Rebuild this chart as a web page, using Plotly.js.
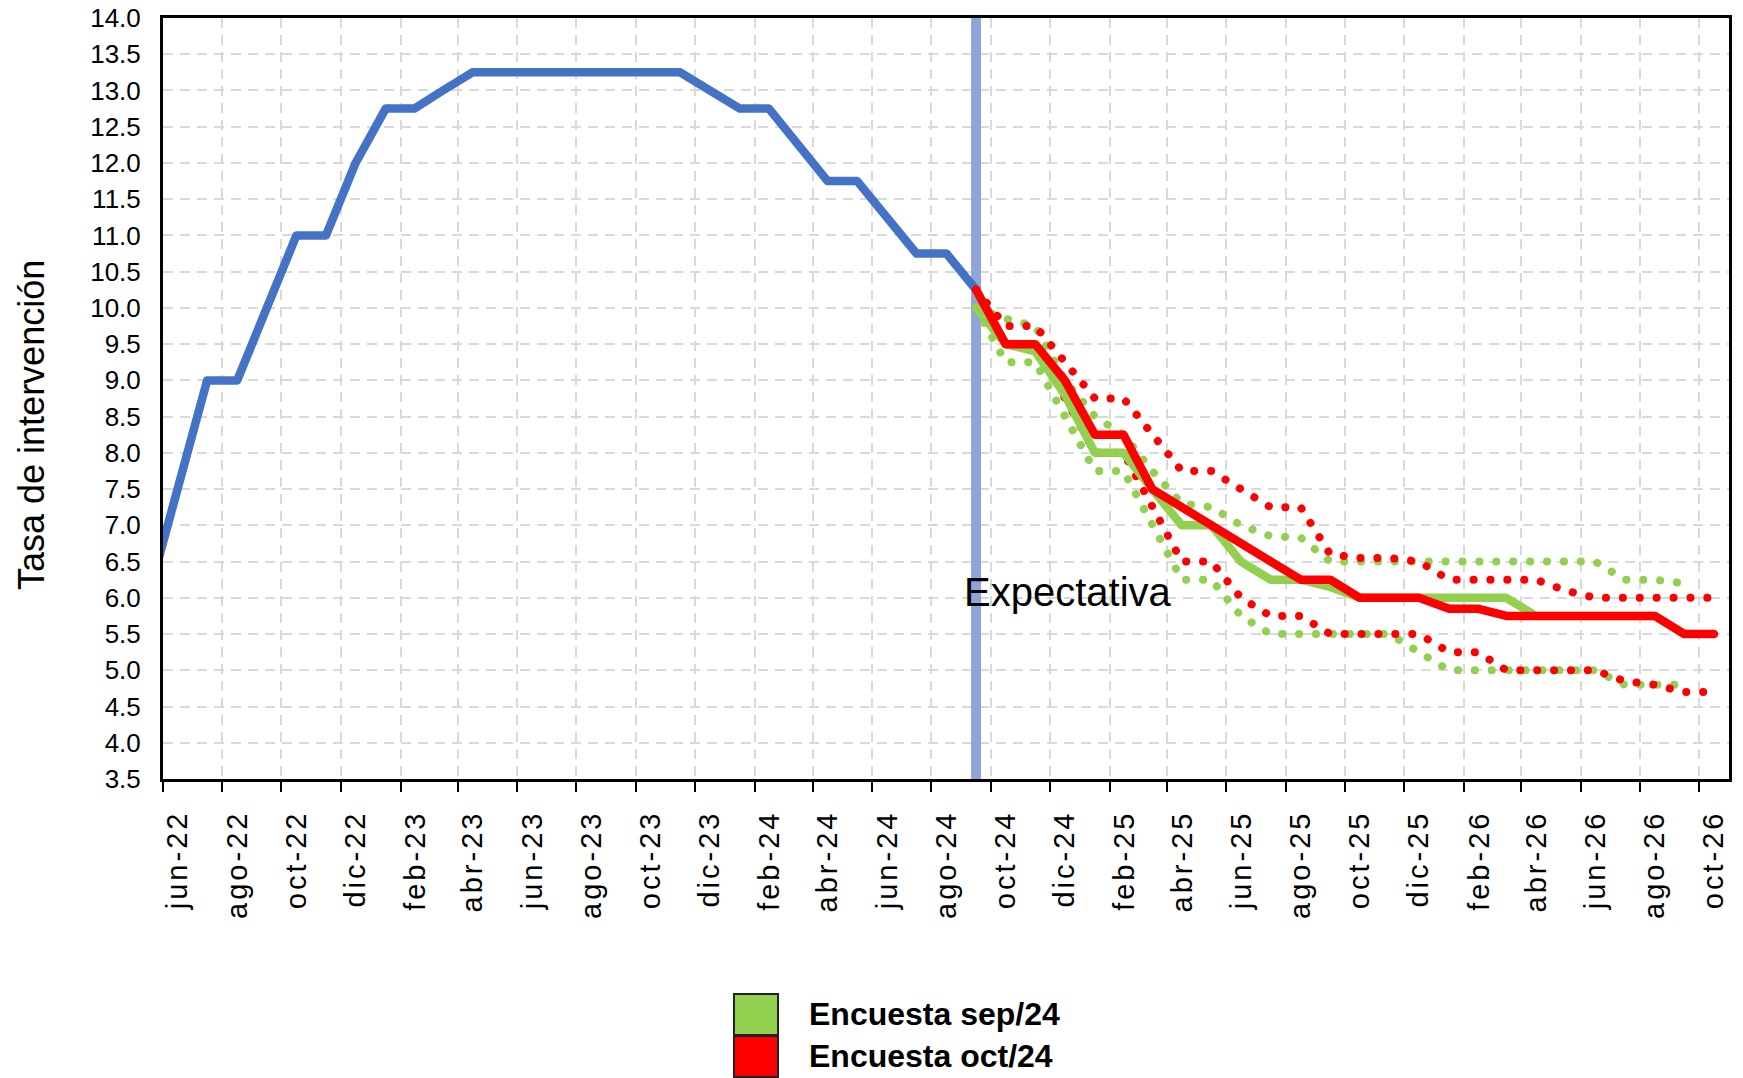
<!DOCTYPE html>
<html><head><meta charset="utf-8">
<script src="https://cdn.plot.ly/plotly-3.0.1.min.js"></script>
<style>
html,body{margin:0;padding:0;background:#fff;}
#chart{width:1743px;height:1078px;}
.scatterlayer .js-line{stroke-linecap:round;stroke-linejoin:round;}
.xtick text{letter-spacing:3px;}
</style></head><body><div id="chart"></div>
<script>
// ---- data ----
const histMonths = ['2022-05','2022-06','2022-07','2022-08','2022-09','2022-10','2022-11','2022-12',
  '2023-01','2023-02','2023-03','2023-04','2023-05','2023-06','2023-07','2023-08','2023-09','2023-10','2023-11','2023-12',
  '2024-01','2024-02','2024-03','2024-04','2024-05','2024-06','2024-07','2024-08','2024-09'];
const policyRate = [6.0,7.5,9.0,9.0,10.0,11.0,11.0,12.0,
  12.75,12.75,13.0,13.25,13.25,13.25,13.25,13.25,13.25,13.25,13.25,13.0,
  12.75,12.75,12.25,11.75,11.75,11.25,10.75,10.75,10.25];

const fcMonths = ['2024-09','2024-10','2024-11','2024-12',
  '2025-01','2025-02','2025-03','2025-04','2025-05','2025-06','2025-07','2025-08','2025-09','2025-10','2025-11','2025-12',
  '2026-01','2026-02','2026-03','2026-04','2026-05','2026-06','2026-07','2026-08','2026-09','2026-10'];

// Encuesta sep/24 (median, max, min) – through sep-26
const sepMedian = [10.0,9.5,9.4,8.8,8.0,8.0,7.5,7.0,7.0,6.5,6.25,6.25,6.15,6.0,6.0,6.0,6.0,6.0,6.0,5.75,5.75,5.75,5.75,5.75,5.5];
const sepMax    = [10.0,9.85,9.75,9.0,8.5,8.25,7.75,7.3,7.25,7.0,6.85,6.83,6.5,6.5,6.5,6.5,6.5,6.5,6.5,6.5,6.5,6.5,6.25,6.25,6.2];
const sepMin    = [10.0,9.25,9.25,8.5,7.75,7.75,7.0,6.25,6.25,5.75,5.5,5.5,5.5,5.5,5.5,5.25,5.0,5.0,5.0,5.0,5.0,5.0,4.8,4.8,4.8];

// Encuesta oct/24 (median, max, min) – through oct-26
const octMedian = [10.25,9.5,9.5,9.0,8.25,8.25,7.5,7.25,7.0,6.75,6.5,6.25,6.25,6.0,6.0,6.0,5.85,5.85,5.75,5.75,5.75,5.75,5.75,5.75,5.5,5.5];
const octMax    = [10.25,9.75,9.75,9.25,8.75,8.75,8.25,7.75,7.75,7.5,7.25,7.25,6.6,6.55,6.55,6.5,6.25,6.25,6.25,6.25,6.1,6.0,6.0,6.0,6.0,6.0];
const octMin    = [10.25,9.5,9.5,8.75,8.0,8.0,7.25,6.5,6.5,6.0,5.75,5.75,5.5,5.5,5.5,5.5,5.25,5.25,5.0,5.0,5.0,5.0,4.85,4.8,4.7,4.7];

const tickMonths = ['2022-06','2022-08','2022-10','2022-12','2023-02','2023-04','2023-06','2023-08','2023-10','2023-12',
  '2024-02','2024-04','2024-06','2024-08','2024-10','2024-12','2025-02','2025-04','2025-06','2025-08','2025-10','2025-12',
  '2026-02','2026-04','2026-06','2026-08','2026-10'];
const tickLabels = ['jun-22','ago-22','oct-22','dic-22','feb-23','abr-23','jun-23','ago-23','oct-23','dic-23',
  'feb-24','abr-24','jun-24','ago-24','oct-24','dic-24','feb-25','abr-25','jun-25','ago-25','oct-25','dic-25',
  'feb-26','abr-26','jun-26','ago-26','oct-26'];
const xRange = ['2022-06-01','2026-11-01'];
const yRange = [3.5, 14.0];
const seriesNames = ['Encuesta sep/24','Encuesta oct/24'];
const yTitle = 'Tasa de intervención';
const cutLabel = 'Expectativa';

const BLUE='#4472C4', GREEN='#92D050', RED='#FF0000', CUT='#8FA5D8';
const FONT='Liberation Sans, Arial, sans-serif';
const DOT='0.1px,16.8px';

function tr(x,y,color,width,dash){
  return {x:x,y:y,type:'scatter',mode:'lines',xperiod:'M1',xperiodalignment:'middle',
    line:{color:color,width:width,dash:dash||'solid'},hoverinfo:'skip',showlegend:false};
}
const lastHist = histMonths[histMonths.length-1];
const traces = [
  tr([lastHist,lastHist], yRange, CUT, 10),
  tr(histMonths, policyRate, BLUE, 8.5),
  tr(fcMonths, sepMax, GREEN, 8, DOT),
  tr(fcMonths, sepMin, GREEN, 8, DOT),
  tr(fcMonths, octMax, RED, 8, DOT),
  tr(fcMonths, octMin, RED, 8, DOT),
  Object.assign(tr(fcMonths, sepMedian, GREEN, 8.5), {name:seriesNames[0]}),
  Object.assign(tr(fcMonths, octMedian, RED, 8.5), {name:seriesNames[1]})
];

const L=163, R=14, T=18, B=299, W=1743, H=1078;
const pw=W-L-R, ph=H-T-B;
const px=v=>(v-L)/pw, py=v=>(H-B-v)/ph;

const layout = {
  width:W, height:H,
  margin:{l:L,r:R,t:T,b:B,pad:0},
  paper_bgcolor:'#fff', plot_bgcolor:'#fff',
  font:{family:FONT,color:'#000'},
  showlegend:false, hovermode:false,
  xaxis:{type:'date', range:xRange, tickmode:'array', tickvals:tickMonths, ticktext:tickLabels,
    tickangle:-90, tickfont:{size:29,family:FONT,color:'#000'}, ticklabelshift:15, ticklabelstandoff:7,
    ticks:'outside', ticklen:10, tickwidth:2, tickcolor:'#000',
    showline:true, linecolor:'#000', linewidth:3, mirror:true,
    showgrid:true, gridcolor:'#D9D9D9', gridwidth:2, griddash:'10px,7px', zeroline:false},
  yaxis:{range:yRange, dtick:0.5, tick0:3.5, tickformat:'.1f', tickfont:{size:26,family:FONT,color:'#000'},
    ticks:'', ticklabelstandoff:14,
    showline:true, linecolor:'#000', linewidth:3, mirror:true,
    showgrid:true, gridcolor:'#D9D9D9', gridwidth:2, griddash:'10px,7px', zeroline:false},
  annotations:[
    {text:yTitle, xref:'paper', yref:'paper', x:px(31), y:py(425), textangle:-90, showarrow:false,
     xanchor:'center', yanchor:'middle', font:{size:36,family:FONT,color:'#000'}},
    {text:cutLabel, xref:'paper', yref:'paper', x:px(962), y:py(592), showarrow:false,
     xanchor:'left', yanchor:'middle', font:{size:40,family:FONT,color:'#000'}},
    {text:'<b>'+seriesNames[0]+'</b>', xref:'paper', yref:'paper', x:px(807), y:py(1014), showarrow:false,
     xanchor:'left', yanchor:'middle', font:{size:32,family:FONT,color:'#000'}},
    {text:'<b>'+seriesNames[1]+'</b>', xref:'paper', yref:'paper', x:px(807), y:py(1056), showarrow:false,
     xanchor:'left', yanchor:'middle', font:{size:32,family:FONT,color:'#000'}}
  ],
  shapes:[
    {type:'rect', xref:'paper', yref:'paper', x0:px(734), x1:px(778), y0:py(1035), y1:py(994),
     fillcolor:GREEN, line:{color:'#222', width:2}},
    {type:'rect', xref:'paper', yref:'paper', x0:px(734), x1:px(778), y0:py(1077), y1:py(1036),
     fillcolor:RED, line:{color:'#222', width:2}}
  ]
};
Plotly.newPlot('chart', traces, layout, {displayModeBar:false, staticPlot:true});
</script></body></html>
